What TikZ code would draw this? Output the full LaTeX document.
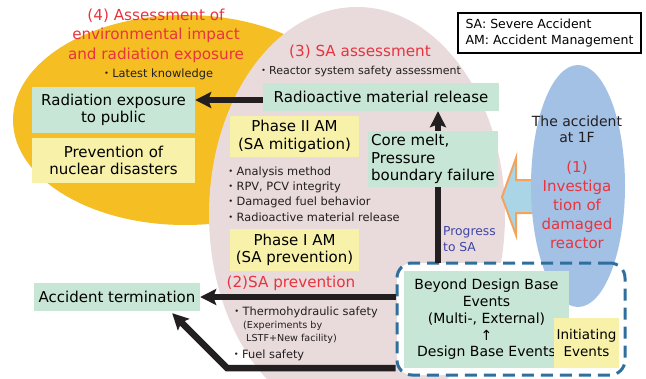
\documentclass[tikz,border=0pt]{standalone}
\usepackage{fontspec}
\setmainfont{DejaVu Sans}
\newfontfamily\cjkfont{Noto Sans CJK JP}
\newcommand{\kdot}{{\cjkfont ・}}
\usetikzlibrary{arrows.meta}

\definecolor{sunyellow}{HTML}{F5BE22}
\definecolor{rosegray}{HTML}{E9DADB}
\definecolor{skyblue}{HTML}{A3C1E4}
\definecolor{mintgreen}{HTML}{C8E6D5}
\definecolor{paleyellow}{HTML}{F7F1A9}
\definecolor{alertred}{HTML}{E8343E}
\definecolor{progblue}{HTML}{3D46A6}
\definecolor{dashblue}{HTML}{2F6F9E}
\definecolor{arroworange}{HTML}{F2A45E}
\definecolor{arrowfill}{HTML}{A9D5E6}
\definecolor{inkblack}{HTML}{231F20}

\begin{document}
\begin{tikzpicture}[x=1pt, y=-1pt,
    greenbox/.style={fill=mintgreen, inner sep=0pt, align=center, font=\fontsize{15}{17.5}\selectfont},
    yellowbox/.style={fill=paleyellow, inner sep=0pt, align=center, font=\fontsize{15}{17.5}\selectfont},
    redtitle/.style={text=alertred, inner sep=0pt, align=center, font=\fontsize{15.2}{19.5}\selectfont},
    bullets/.style={text=inkblack, inner sep=0pt, align=left, font=\fontsize{11.4}{15.4}\selectfont},
    bigarrow/.style={line width=6.5pt, draw=inkblack, -{Stealth[length=16pt, width=16pt, inset=3pt]}},
    thickline/.style={line width=6.5pt, draw=inkblack}]
    \useasboundingbox (0,0) rectangle (646,378);

    % background areas
    \fill[sunyellow] (185,120) ellipse [x radius=172pt, y radius=105pt];
    \fill[rosegray] (357,214.5) ellipse [x radius=148pt, y radius=207.5pt];
    \fill[white, rounded corners=15pt] (397,263) rectangle (625,375);
    \filldraw[fill=arrowfill, draw=arroworange, line width=2pt] (502,197) -- (516,158) -- (516,180) -- (545,180) -- (545,213) -- (516,213) -- (516,235) -- cycle;
    \fill[skyblue] (578,186) ellipse [x radius=47pt, y radius=121pt];
    \node[draw=dashblue, line width=3pt, dash pattern=on 12pt off 7pt, rounded corners=15pt, minimum width=228pt, minimum height=112pt] (events) at (511,319) {};

    % legend
    \node[draw, line width=1.2pt, inner xsep=7pt, minimum width=183pt, minimum height=40pt, align=left, font=\fontsize{12.5}{16.5}\selectfont] (legend) at (549.5,33) {SA: Severe Accident\\AM: Accident Management};

    % titles and notes
    \node[redtitle] (envtitle) at (156,35.5) {(4) Assessment of\\environmental impact\\and radiation exposure};
    \node[bullets] (knowledge) at (157,74) {\kdot Latest knowledge};
    \node[redtitle] (satitle) at (360,52) {(3) SA assessment};
    \node[bullets, font=\fontsize{11}{15}\selectfont] (reactor) at (359.5,71) {\kdot Reactor system safety assessment};
    \node[bullets, anchor=west] (mitnotes) at (225,194) {\kdot Analysis method\\\kdot RPV, PCV integrity\\\kdot Damaged fuel behavior\\\kdot Radioactive material release};
    \node[redtitle] (prevtitle) at (291,283) {(2)SA prevention};
    \node[bullets, anchor=west] (thermo) at (231,312) {\kdot Thermohydraulic safety};
    \node[bullets, anchor=west, font=\fontsize{9.6}{13}\selectfont] (experiments) at (243,332.5) {(Experiments by\\\hspace*{3pt}LSTF+New facility)};
    \node[bullets, anchor=west] (fuel) at (230.5,355) {\kdot Fuel safety};
    \node[text=progblue, inner sep=0pt, anchor=west, align=left, font=\fontsize{12.3}{16}\selectfont] (progress) at (443,239) {Progress\\to SA};
    \node[text=inkblack, inner sep=0pt, align=center, font=\fontsize{14}{15.6}\selectfont] (accident) at (577,129.5) {The accident\\at 1F};
    \node[redtitle, font=\fontsize{15}{19}\selectfont] (investigation) at (577,204.7) {(1)\\Investiga\\tion of\\damaged\\reactor};

    % boxes
    \node[greenbox, minimum width=163pt, minimum height=46pt] (exposure) at (113.5,110) {Radiation exposure\\to public};
    \node[yellowbox, minimum width=163pt, minimum height=45pt] (disaster) at (113.5,160.5) {Prevention of\\nuclear disasters};
    \node[greenbox, minimum width=236pt, minimum height=28pt] (release) at (381,97) {Radioactive material release};
    \node[yellowbox, minimum width=129pt, minimum height=41pt] (phasetwo) at (294.5,136.5) {Phase II AM\\(SA mitigation)};
    \node[yellowbox, minimum width=129pt, minimum height=42pt] (phaseone) at (294.5,250) {Phase I AM\\(SA prevention)};
    \node[greenbox, align=left, minimum width=130pt, minimum height=56pt] (coremelt) at (433,159) {Core melt,\\Pressure\\boundary failure};
    \node[greenbox, minimum width=166pt, minimum height=28pt] (termination) at (117,297) {Accident termination};
    \node[greenbox, minimum width=165pt, minimum height=97pt, font=\fontsize{14}{16.7}\selectfont] (beyond) at (486.5,319.5) {Beyond Design Base\\Events\\(Multi-, External)\\↑\\Design Base Events};
    \node[yellowbox, minimum width=65pt, minimum height=50pt, font=\fontsize{13.5}{16.7}\selectfont] (initiating) at (586.5,343) {Initiating\\Events};

    % connectors
    \coordinate (sapath) at (438,263);
    \coordinate (bend) at (227,368);
    \draw[bigarrow] ([yshift=-3pt]release.west) -- ([yshift=-3pt]release.west -| exposure.east);
    \draw[thickline] (sapath) -- (sapath |- coremelt.south);
    \draw[bigarrow] (sapath |- coremelt.north) -- (sapath |- release.south);
    \draw[bigarrow] (termination.east -| events.west) -- (termination.east);
    \draw[bigarrow] (bend -| events.west) -- (bend) -- ([xshift=-28pt, yshift=-2pt]termination.south east);
\end{tikzpicture}
\end{document}
